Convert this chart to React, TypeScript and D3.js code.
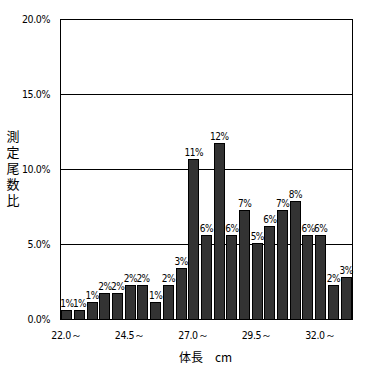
import * as d3 from "d3";
import React, { useEffect, useRef } from "react";

// 体長階級 (0.5cm刻み) と測定尾数比 (%)
const lengthClasses = [
    "22.0", "22.5", "23.0", "23.5", "24.0", "24.5", "25.0", "25.5", "26.0", "26.5", "27.0", "27.5",
    "28.0", "28.5", "29.0", "29.5", "30.0", "30.5", "31.0", "31.5", "32.0", "32.5", "33.0",
];
const ratios = [
    0.56, 0.56, 1.12, 1.68, 1.68, 2.23, 2.23, 1.12, 2.23, 3.35, 10.61, 5.59,
    11.73, 5.59, 7.26, 5.03, 6.15, 7.26, 7.82, 5.59, 5.59, 2.23, 2.79,
];
const xTickLabels = ["22.0", "24.5", "27.0", "29.5", "32.0"];
const yTicks = [0, 5, 10, 15, 20];

const numFont = "'DejaVu Sans Condensed', 'Liberation Sans', sans-serif";
const jpFont = "'Noto Sans CJK JP', sans-serif";

export default function App() {
    const svgRef = useRef<SVGSVGElement | null>(null);

    useEffect(() => {
        if (!svgRef.current) return;
        const svg = d3.select(svgRef.current);
        svg.selectAll("*").remove();

        const width = 370;
        const height = 369;
        const left = 60, right = 352, top = 18.5, bottom = 318.5;

        const x = d3.scaleBand<string>()
            .domain(lengthClasses)
            .range([left, right])
            .paddingInner(0.2)
            .paddingOuter(0.1);

        const y = d3.scaleLinear().domain([0, 20]).range([bottom, top]);

        svg.attr("width", width).attr("height", height);

        svg.append("rect")
            .attr("x", 0).attr("y", 0)
            .attr("width", width).attr("height", height)
            .attr("fill", "white");

        // gridlines
        svg.selectAll(".grid")
            .data(yTicks)
            .enter()
            .append("line")
            .attr("x1", left).attr("x2", right)
            .attr("y1", (d) => Math.round(y(d)) + 0.5)
            .attr("y2", (d) => Math.round(y(d)) + 0.5)
            .attr("stroke", "black")
            .attr("stroke-width", 1);

        // y labels
        svg.selectAll(".ylab")
            .data(yTicks)
            .enter()
            .append("text")
            .attr("x", 50)
            .attr("y", (d) => y(d) + 4)
            .attr("text-anchor", "end")
            .style("font-family", numFont)
            .style("font-size", "10.5px")
            .style("letter-spacing", "-0.4px")
            .text((d) => d.toFixed(1) + "%");

        // bars
        svg.selectAll(".bar")
            .data(ratios)
            .enter()
            .append("rect")
            .attr("x", (d, i) => Math.round(x(lengthClasses[i])!) + 0.5)
            .attr("y", (d) => Math.round(y(d)) + 0.5)
            .attr("width", Math.round(x.bandwidth()))
            .attr("height", (d) => Math.round(bottom) - Math.round(y(d)))
            .attr("fill", "#333333")
            .attr("stroke", "black")
            .attr("stroke-width", 1);

        // value labels
        svg.selectAll(".val")
            .data(ratios)
            .enter()
            .append("text")
            .attr("x", (d, i) => x(lengthClasses[i])! + x.bandwidth() / 2 + 0.5)
            .attr("y", (d) => y(d) - 3)
            .attr("text-anchor", "middle")
            .style("font-family", numFont)
            .style("font-size", "10px")
            .style("letter-spacing", "-0.5px")
            .text((d) => Math.round(d) + "%");

        // frame
        svg.append("rect")
            .attr("x", left + 0.5).attr("y", Math.round(top) + 0.5)
            .attr("width", right - left)
            .attr("height", Math.round(bottom) - Math.round(top))
            .attr("fill", "none")
            .attr("stroke", "black");

        // x tick labels
        svg.selectAll(".xlab")
            .data(xTickLabels)
            .enter()
            .append("text")
            .attr("x", (d) => x(d)! + x.bandwidth() / 2)
            .attr("y", 339)
            .attr("text-anchor", "middle")
            .style("font-family", numFont)
            .style("font-size", "10.5px")
            .style("letter-spacing", "-0.4px")
            .text((d) => d + "～");

        // axis titles
        svg.append("text")
            .attr("x", 179)
            .attr("y", 362)
            .style("font-family", jpFont)
            .style("font-size", "12px")
            .text("体長\u3000cm");

        svg.append("text")
            .attr("x", 13)
            .attr("y", 130)
            .style("writing-mode", "vertical-rl")
            .style("font-family", jpFont)
            .style("font-size", "13px")
            .style("letter-spacing", "3px")
            .text("測定尾数比");
    }, []);

    return <svg ref={svgRef} style={{ position: "absolute", left: 0, top: 0 }} />;
}
